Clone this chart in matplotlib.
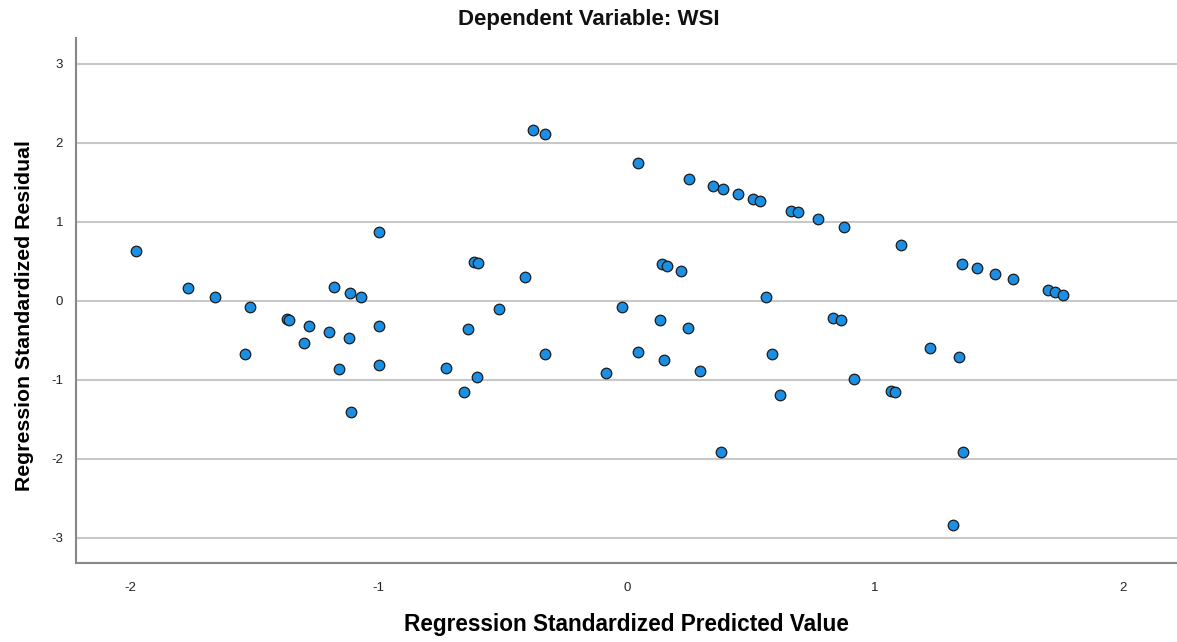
import matplotlib.pyplot as plt
import numpy as np

# Regression standardized predicted value (x) and residual (y)
pred = [-1.98, -1.77, -1.66, -1.52, -1.54, -1.37, -1.36, -1.28, -1.30, -1.20,
        -1.18, -1.12, -1.114, -1.07, -1.16, -1.11, -1.00, -1.00, -1.00,
        -0.73, -0.655, -0.642, -0.617, -0.600, -0.605, -0.517, -0.409, -0.380,
        -0.331, -0.328, -0.085, -0.019, 0.047, 0.044, 0.134, 0.140, 0.161,
        0.149, 0.219, 0.249, 0.247, 0.294, 0.348, 0.389, 0.379, 0.449, 0.509,
        0.537, 0.560, 0.585, 0.616, 0.664, 0.690, 0.770, 0.832, 0.864, 0.876,
        0.917, 1.065, 1.081, 1.106, 1.223, 1.316, 1.341, 1.352, 1.357, 1.410,
        1.485, 1.555, 1.699, 1.727, 1.757]
resid = [0.63, 0.16, 0.05, -0.08, -0.68, -0.23, -0.24, -0.32, -0.53, -0.40,
         0.17, -0.47, 0.10, 0.05, -0.87, -1.41, 0.87, -0.32, -0.82,
         -0.85, -1.16, -0.36, 0.49, 0.48, -0.97, -0.10, 0.30, 2.16,
         2.11, -0.67, -0.91, -0.08, 1.74, -0.65, -0.24, 0.46, 0.44,
         -0.75, 0.38, 1.54, -0.35, -0.89, 1.45, 1.41, -1.92, 1.35, 1.29,
         1.26, 0.05, -0.68, -1.20, 1.14, 1.12, 1.03, -0.22, -0.25, 0.93,
         -0.99, -1.14, -1.16, 0.71, -0.60, -2.84, -0.71, 0.47, -1.91, 0.41,
         0.34, 0.27, 0.13, 0.11, 0.07]

yticks = [-3, -2, -1, 0, 1, 2, 3]
xticks = [-2, -1, 0, 1, 2]

plt.rcParams['font.family'] = ['Liberation Sans', 'DejaVu Sans']

fig = plt.figure(figsize=(11.77, 6.42), dpi=100)
ax = fig.add_axes([0.0642, 0.123, 0.9358, 0.818])

ax.plot(pred, resid, 'o', markersize=7.6, markerfacecolor='#1a8fe3',
        markeredgecolor='#1b1b1b', markeredgewidth=0.9, zorder=3)

ax.set_xlim(-2.222, 2.218)
ax.set_ylim(-3.32, 3.325)
ax.set_xticks(xticks)
ax.set_yticks(yticks)
ax.set_xticklabels([str(t) for t in xticks])
ax.set_yticklabels([str(t) for t in yticks])
ax.tick_params(length=0, labelsize=9.5, colors='#222222')
ax.tick_params(axis='x', pad=14)
ax.tick_params(axis='y', pad=9)

ax.yaxis.grid(True, color='#c8c8c8', linewidth=1.5)
ax.xaxis.grid(False)
ax.set_axisbelow(True)
for s in ['top', 'right']:
    ax.spines[s].set_visible(False)
ax.spines['left'].set_color('#888888')
ax.spines['bottom'].set_color('#888888')
ax.spines['left'].set_linewidth(1.5)
ax.spines['bottom'].set_linewidth(1.5)

ax.set_xlabel('Regression Standardized Predicted Value', fontsize=16.3,
              fontweight='bold', labelpad=13)
ax.set_ylabel('Regression Standardized Residual', fontsize=15.3,
              fontweight='bold')
ax.yaxis.set_label_coords(-0.038, 0.472)
fig.text(0.5, 0.97, 'Dependent Variable: WSI', ha='center', va='center',
         fontsize=16, fontweight='bold', color='#111111')

fig.savefig('out.png', dpi=100)
